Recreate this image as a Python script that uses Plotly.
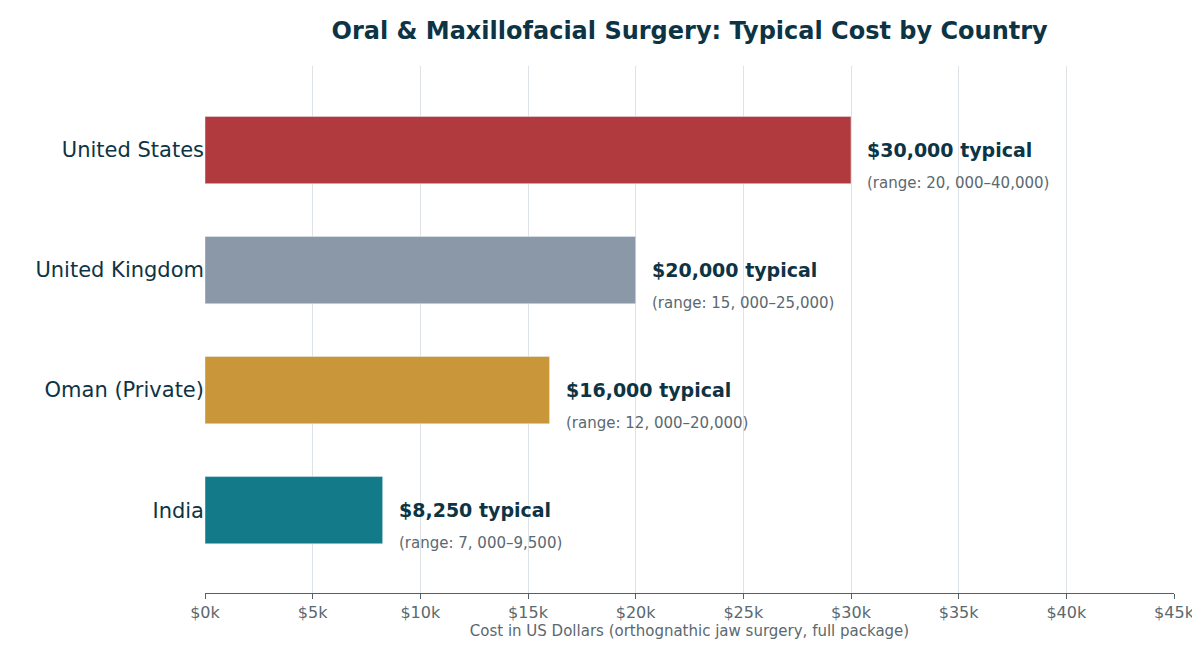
import plotly.graph_objects as go

countries = ["United States", "United Kingdom", "Oman (Private)", "India"]
typical = [30000, 20000, 16000, 8250]
low = [20000, 15000, 12000, 7000]
high = [40000, 25000, 20000, 9500]
colors = ["#b03a3e", "#8a98a8", "#c9973a", "#137a8a"]
tickvals = list(range(0, 45001, 5000))
ticktext = ["$%dk" % (v // 1000) for v in tickvals]

def fmt(v):
    return "{:,}".format(v)

fig = go.Figure()
fig.add_trace(go.Bar(y=list(range(len(countries))), x=typical, orientation="h",
                     marker_color=colors, width=0.56, hoverinfo="skip"))
for i, (t, lo, hi) in enumerate(zip(typical, low, high)):
    lo_s = fmt(lo).replace(",", ", ", 1)
    fig.add_annotation(x=t, y=i, text="<b>$%s typical</b>" % fmt(t), xanchor="left",
                       yanchor="middle", xshift=14, yshift=0, showarrow=False,
                       font=dict(size=19, color="#0d3444"))
    fig.add_annotation(x=t, y=i, text="(range: %s–%s)" % (lo_s, fmt(hi)), xanchor="left",
                       yanchor="middle", xshift=14, yshift=-33, showarrow=False,
                       font=dict(size=15, color="#5a6870"))

fig.update_layout(
    width=1200, height=650, plot_bgcolor="white", paper_bgcolor="white",
    font=dict(family="DejaVu Sans"),
    title=dict(text="<b>Oral & Maxillofacial Surgery: Typical Cost by Country</b>",
               x=0.568, xanchor="center", y=0.965, yanchor="middle",
               font=dict(size=24, color="#0d3444")),
    margin=dict(l=197, r=34, t=58, b=65),
    showlegend=False,
)
fig.update_xaxes(range=[0, 45000], tickvals=tickvals, ticktext=ticktext, automargin=False,
                 showgrid=True, gridcolor="#dde3e6", gridwidth=1.3,
                 showline=True, linecolor="#555f66", ticks="outside", tickcolor="#555f66",
                 tickfont=dict(size=16, color="#5a6870"), zeroline=False,
                 title=dict(text="Cost in US Dollars (orthognathic jaw surgery, full package)",
                            font=dict(size=15, color="#5a6870"), standoff=4))
fig.update_yaxes(range=[3.69, -0.7], tickvals=list(range(len(countries))), ticktext=countries,
                 automargin=False, tickfont=dict(size=21, color="#0d3444"),
                 ticks="", showgrid=False, ticksuffix=" ", zeroline=False)
fig.write_html("out.html")
